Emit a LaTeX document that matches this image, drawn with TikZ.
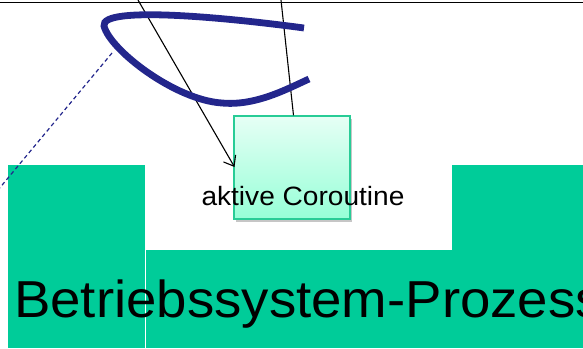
\documentclass[tikz,border=0pt]{standalone}
\usepackage{fontspec}
\setmainfont{Liberation Sans}
\usetikzlibrary{shadows,arrows.meta}
\definecolor{osgreen}{RGB}{0,204,153}
\definecolor{boxedge}{RGB}{40,204,150}
\definecolor{boxtop}{RGB}{230,255,245}
\definecolor{boxbot}{RGB}{150,255,215}
\definecolor{navy}{RGB}{35,38,140}
\tikzset{
  greenblock/.style={fill=osgreen, draw=none},
  coro/.style={draw=boxedge, line width=1.3pt, top color=boxtop, bottom color=boxbot,
    minimum width=116pt, minimum height=103pt, inner sep=0pt,
    drop shadow={shadow xshift=2pt, shadow yshift=-3pt, opacity=0.45}},
  thinline/.style={draw=black, line width=1.1pt},
  loopline/.style={draw=navy, line width=6.8pt},
  dashline/.style={draw=navy, line width=1.2pt, dash pattern=on 4pt off 3pt},
}
\begin{document}
\begin{tikzpicture}[x=1pt,y=-1pt]
\useasboundingbox (0,0) rectangle (583,348);
\clip (0,0) rectangle (583,348);
% green process shape
\fill[greenblock] (8,165) rectangle (145,348);
\fill[greenblock] (452,165) rectangle (583,348);
\fill[greenblock] (145.6,250) rectangle (583,348);
\draw[white, opacity=0.6, line width=0.6pt] (145.3,250) -- (145.3,348);
\node[anchor=base west, inner sep=0pt, font=\fontsize{52}{60}\selectfont, xscale=1.05] (os) at (14,317) {Betriebssystem-Prozess};
% top line
\coordinate (tl) at (0,2.5);
\coordinate (tr) at (583,2.5);
\draw[thinline, line width=1.5pt] (tl) -- (tr);
% lines
\coordinate (a1) at (138,0);
\coordinate (a2) at (281,0);
\node[coro] (box) at (292,167.5) {};
\coordinate (tip) at (234.5,167);
\draw[thinline, -{Straight Barb[length=9pt, width=14pt]}] (a1) -- (tip);
\draw[thinline] (a2) -- (box.north -| 293.5,0);
\node[anchor=base, inner sep=0pt, font=\fontsize{26.5}{30}\selectfont, xscale=1.06] (lbl) at (303,205) {aktive Coroutine};
% blue loop
\coordinate (l1) at (304,28);
\coordinate (l2) at (104,26);
\coordinate (l3) at (222,103);
\coordinate (l4) at (309,79);
\draw[loopline] (l1) .. controls (230,18) and (100,5) .. (l2)
  .. controls (110,50) and (175,100) .. (l3)
  .. controls (255,106) and (285,90) .. (l4);
% dashed
\coordinate (d1) at (112,53);
\coordinate (d2) at (-2,190);
\draw[dashline] (d1) -- (d2);
\end{tikzpicture}
\end{document}
